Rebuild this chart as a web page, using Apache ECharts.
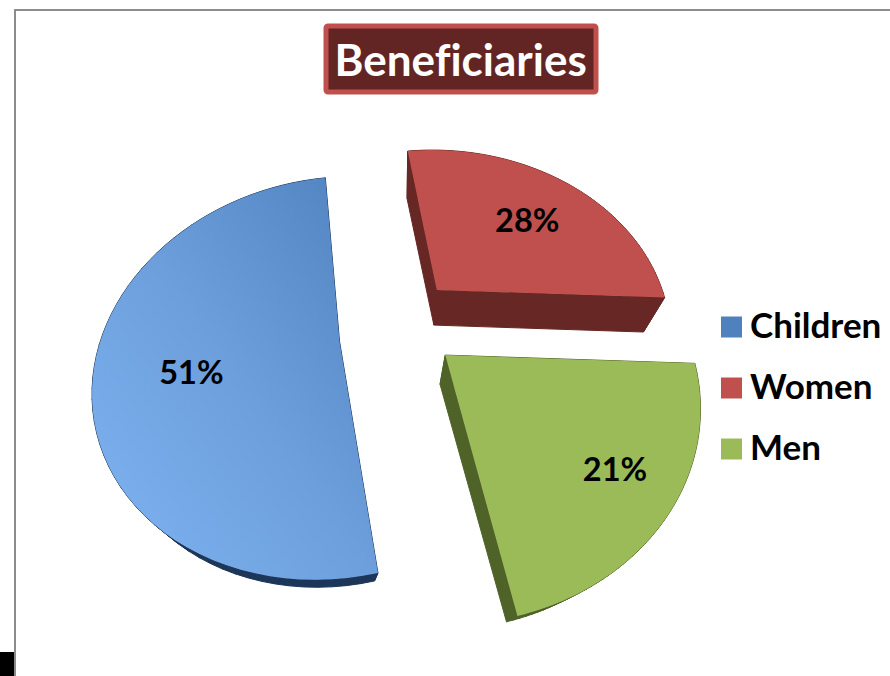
<!DOCTYPE html>
<html>
<head>
<meta charset="utf-8">
<style>html,body{margin:0;padding:0;background:#fff}#main{width:890px;height:676px}#main text{font-variant-ligatures:none}</style>
<script src="https://cdn.jsdelivr.net/npm/echarts@6/dist/echarts.min.js"></script>
</head>
<body>
<div id="main"></div>
<script>
// chart data
var categories = ['Children', 'Women', 'Men'];
var shares = [51, 28, 21];

// look of each slice
var topColors = [
  new echarts.graphic.LinearGradient(0, 1, 1, 0, [{offset: 0, color: '#80B4F2'}, {offset: 0.5, color: '#6C9FDC'}, {offset: 1, color: '#4F81BD'}]),
  '#C0504D',
  '#9BBB59'
];
var legendColors = ['#4F81BD', '#C0504D', '#9BBB59'];
var sideColors = ['#1C3659', '#662725', '#4F6228'];
// how far each slice is pulled out, and its own perspective and size
var pulls = [[-0.24, 0.1026], [0.157, -0.19], [0.2, 0.1508]];
var tilts = [0.18, 0.26, 0.227];
var widths = [232, 239, 241];
var heights = [187.9, 191.7, 191.7];
var depthX = [335, 400, 380];
var depthY = [0.075, 0.09, 0.09];
var labelRadius = [0.61, 0.68, 0.78];
var labelDrop = [9, 7, -3];

// tilted pie: disc coordinates to screen
var view = {cx: 398, cy: 323.5, b: -17, c: 8, axis: 14.4 * Math.PI / 180};
var depth = {lx: 0.08, vy: 680};

function project(index, u, v) {
  var s = pulls[index][0] + u * Math.cos(view.axis) + v * Math.sin(view.axis);
  var t = pulls[index][1] - u * Math.sin(view.axis) + v * Math.cos(view.axis);
  var w = 1 - tilts[index] * t;
  return [view.cx + (widths[index] * s + view.b * t) / w, view.cy + (view.c * s + heights[index] * t) / w];
}

var total = shares.reduce(function (a, b) { return a + b; }, 0);

function sliceItem(index) {
  return function (params, api) {
    var before = 0;
    for (var i = 0; i < index; i++) before += shares[i];
    var from = before / total * Math.PI * 2;
    var sweep = api.value(0) / total * Math.PI * 2;
    var mid = from + sweep / 2;
    var extrude = function (p) {
      return [p[0] + depth.lx * (depthX[index] - p[0]), p[1] + depthY[index] * (depth.vy - p[1])];
    };
    var steps = 60;
    var outline = [project(index, 0, 0)];
    for (var n = 0; n <= steps; n++) {
      var ang = from + sweep * n / steps;
      outline.push(project(index, -Math.sin(ang), Math.cos(ang)));
    }
    var children = [];
    for (var j = 0; j < outline.length; j++) {
      var p = outline[j];
      var q = outline[(j + 1) % outline.length];
      children.push({
        type: 'polygon',
        shape: {points: [p, q, extrude(q), extrude(p)]},
        style: {fill: sideColors[index], stroke: sideColors[index], lineWidth: 1}
      });
    }
    children.push({
      type: 'polygon',
      shape: {points: outline},
      style: {fill: topColors[index]}
    });
    var lp = project(index, -Math.sin(mid) * labelRadius[index], Math.cos(mid) * labelRadius[index]);
    children.push({
      type: 'text',
      style: {
        x: lp[0], y: lp[1] + labelDrop[index], text: Math.round(api.value(0) / total * 100) + '%',
        fill: '#000', font: 'bold 32.5px Lato', align: 'center', verticalAlign: 'middle'
      }
    });
    return {type: 'group', children: children};
  };
}

var myChart = echarts.init(document.getElementById('main'), null, {renderer: 'svg'});
myChart.setOption({
  animation: false,
  backgroundColor: '#fff',
  title: {
    text: 'Beneficiaries',
    left: 325.5,
    top: 25.5,
    padding: [11, 10, 12, 9],
    backgroundColor: '#632523',
    borderColor: '#C0504D',
    borderWidth: 5,
    borderRadius: 2,
    textStyle: {color: '#fff', fontFamily: 'Lato', fontWeight: 'bold', fontSize: 44}
  },
  legend: {
    orient: 'vertical',
    left: 721,
    top: 306.5,
    padding: 0,
    itemWidth: 21,
    itemHeight: 21,
    itemGap: 26,
    icon: 'rect',
    data: categories,
    formatter: '{t|{name}}',
    textStyle: {
      rich: {
        t: {color: '#000', fontFamily: 'Lato', fontWeight: 'bold', fontSize: 35, height: 35, padding: [0, 0, 6, 3]}
      }
    }
  },
  graphic: [
    {type: 'line', shape: {x1: 14, y1: 10, x2: 890, y2: 10}, style: {stroke: '#8C8C8C', lineWidth: 2}},
    {type: 'line', shape: {x1: 15, y1: 10, x2: 15, y2: 676}, style: {stroke: '#8C8C8C', lineWidth: 2}},
    {type: 'rect', shape: {x: 0, y: 652, width: 14, height: 24}, style: {fill: '#000'}}
  ],
  series: categories.map(function (name, i) {
    return {
      type: 'custom',
      name: name,
      coordinateSystem: 'none',
      itemStyle: {color: legendColors[i]},
      data: [[shares[i]]],
      renderItem: sliceItem(i)
    };
  })
});
</script>
</body>
</html>
